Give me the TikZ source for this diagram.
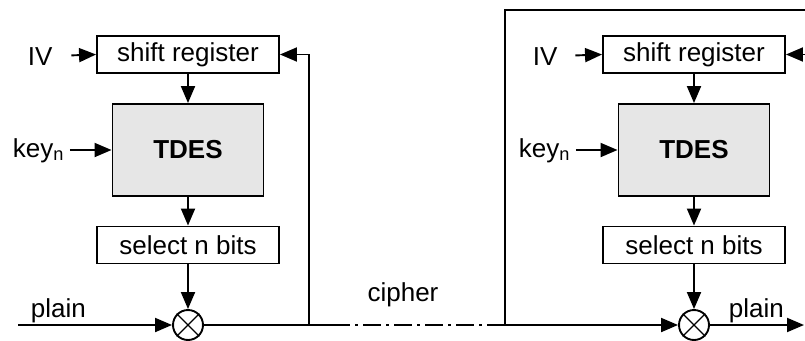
\documentclass[tikz,border=0pt]{standalone}
\usepackage{fontspec}
\setmainfont{Liberation Sans}
\usetikzlibrary{arrows.meta}
\definecolor{tdesgray}{RGB}{230,230,230}

\begin{document}
\begin{tikzpicture}[x=1pt,y=-1pt,line width=1.9pt,
    >={Triangle[length=17pt,width=14pt]},
    font=\fontsize{26}{30}\selectfont,
    regbox/.style={draw,minimum width=182pt,minimum height=37pt,inner sep=0pt},
    desbox/.style={draw,fill=tdesgray,minimum width=151pt,minimum height=92pt,inner sep=0pt,font=\fontsize{26}{30}\selectfont\bfseries},
    xorop/.style={draw,circle,minimum size=30pt,inner sep=0pt},
    lbl/.style={inner sep=0pt},
    dashdot/.style={dash pattern=on 18pt off 5pt on 3pt off 5pt}]
    \useasboundingbox (0,0) rectangle (805,340);

    % Encryption side
    \node[regbox] (sr1) at (188,54.5) {shift register};
    \node[desbox] (des1) at (188,150) {TDES};
    \node[regbox] (sel1) at (188,245) {select n bits};
    \node[xorop] (xor1) at (188,325) {};
    \draw[line width=1.3pt] (xor1.north west) -- (xor1.south east) (xor1.north east) -- (xor1.south west);

    \node[lbl,anchor=base west] (iv1) at (27,65) {IV};
    \node[lbl,anchor=base west] (key1) at (12,157) {key\textsubscript{n}};
    \node[lbl,anchor=base west] (plain1) at (30,317) {plain};

    \draw[->,shorten <=18pt] (iv1.east) -- (sr1.west);
    \draw[->,shorten <=5pt] (key1.east |- des1.west) -- (des1.west);
    \draw[->] (sr1) -- (des1);
    \draw[->] (des1) -- (sel1);
    \draw[->] (sel1) -- (xor1);

    % Decryption side
    \node[regbox] (sr2) at (694,54.5) {shift register};
    \node[desbox] (des2) at (694,150) {TDES};
    \node[regbox] (sel2) at (694,245) {select n bits};
    \node[xorop] (xor2) at (694,325) {};
    \draw[line width=1.3pt] (xor2.north west) -- (xor2.south east) (xor2.north east) -- (xor2.south west);

    \node[lbl,anchor=base west] (iv2) at (532,65) {IV};
    \node[lbl,anchor=base west] (key2) at (518,157) {key\textsubscript{n}};
    \node[lbl,anchor=base west] (plain2) at (728,317) {plain};

    \draw[->,shorten <=17pt] (iv2.east) -- (sr2.west);
    \draw[->,shorten <=5pt] (key2.east |- des2.west) -- (des2.west);
    \draw[->] (sr2) -- (des2);
    \draw[->] (des2) -- (sel2);
    \draw[->] (sel2) -- (xor2);

    % Channel and feedback
    \node[lbl,anchor=base] (cipher) at (403,301) {cipher};
    \coordinate (in1) at (18,325);
    \coordinate (tap1) at (309,325);
    \coordinate (gapL) at (332,325);
    \coordinate (gapR) at (498,325);
    \coordinate (tap2) at (505,325);
    \coordinate (top2) at (815,10);
    \coordinate (out2) at (804,325);

    \draw[->] (in1) -- (xor1);
    \draw (xor1) -- (gapL);
    \draw[dashdot] (gapL) -- (gapR);
    \draw[->] (gapR) -- (xor2);
    \draw[->] (tap1) |- (sr1);
    \draw[->] (tap2) |- (top2) |- (sr2);
    \draw[->] (xor2) -- (out2);
\end{tikzpicture}
\end{document}
